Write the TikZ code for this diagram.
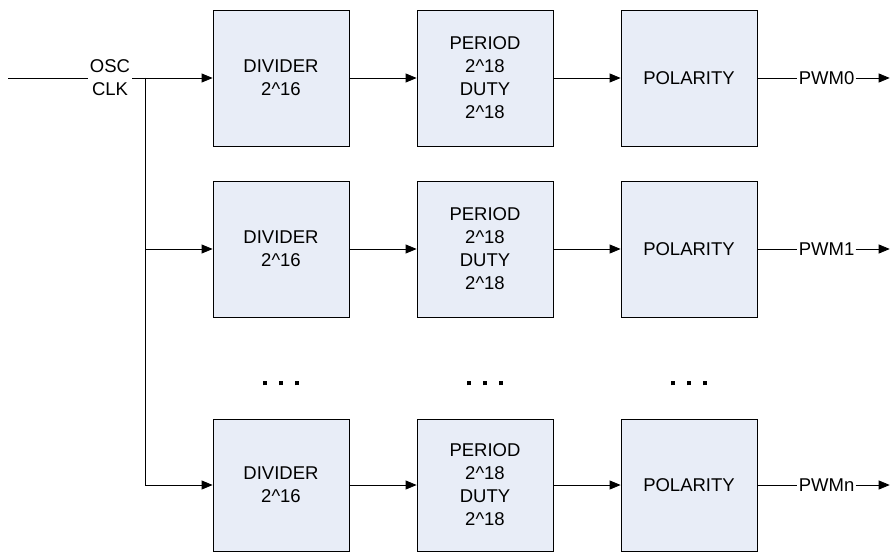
\documentclass[tikz,border=0pt]{standalone}
\usepackage{fontspec}
\setmainfont{Liberation Sans}
\usetikzlibrary{arrows.meta, positioning}

\newcommand{\sq}{\rule{4.5pt}{4.5pt}}

\begin{document}
\begin{tikzpicture}[x=1pt, y=-1pt, line width=0.8pt,
    box/.style={draw, fill={rgb,255:red,232;green,237;blue,247}, minimum width=136pt, minimum height=136pt, align=center, inner sep=0pt},
    lbl/.style={align=center, inner sep=2pt},
    arr/.style={-{Triangle[length=11pt,width=9pt]}}]
    \useasboundingbox (0,0) rectangle (890,553);
    \fontsize{18.5}{23}\selectfont
    % first row
    \node[box] (div1) at (281,78) {DIVIDER\\2\^{}16};
    \node[box] (per1) at (485,78) {PERIOD\\2\^{}18\\DUTY\\2\^{}18};
    \node[box] (pol1) at (689,78) {POLARITY};
    % second row
    \node[box] (div2) at (281,249) {DIVIDER\\2\^{}16};
    \node[box] (per2) at (485,249) {PERIOD\\2\^{}18\\DUTY\\2\^{}18};
    \node[box] (pol2) at (689,249) {POLARITY};
    % last row
    \node[box, minimum height=132pt] (div3) at (281,485) {DIVIDER\\2\^{}16};
    \node[box, minimum height=132pt] (per3) at (485,485) {PERIOD\\2\^{}18\\DUTY\\2\^{}18};
    \node[box, minimum height=132pt] (pol3) at (689,485) {POLARITY};
    % dots
    \node (dots1) at (281,383) {\sq\hspace{11.5pt}\sq\hspace{11.5pt}\sq};
    \node (dots2) at (485,383) {\sq\hspace{11.5pt}\sq\hspace{11.5pt}\sq};
    \node (dots3) at (689,383) {\sq\hspace{11.5pt}\sq\hspace{11.5pt}\sq};
    % clock
    \coordinate (osc) at (8,78);
    \node[lbl] (clk) at (110,78) {OSC\\CLK};
    \coordinate (br) at (145,78);
    \draw (osc) -- (clk.west);
    \draw[arr] (clk.east) -- (div1.west);
    \draw[arr] (br) |- (div2.west);
    \draw[arr] (br) |- (div3.west);
    % chains
    \foreach \r/\n in {1/0, 2/1, 3/n} {
      \draw[arr] (div\r) -- (per\r);
      \draw[arr] (per\r) -- (pol\r);
      \node[lbl, right=40pt of pol\r.east, anchor=west, inner sep=1pt] (pwm\r) {PWM\n};
      \coordinate[right=34pt of pwm\r.east] (out\r);
      \draw (pol\r.east) -- (pwm\r.west);
      \draw[arr] (pwm\r.east) -- (out\r);
    }
\end{tikzpicture}
\end{document}
